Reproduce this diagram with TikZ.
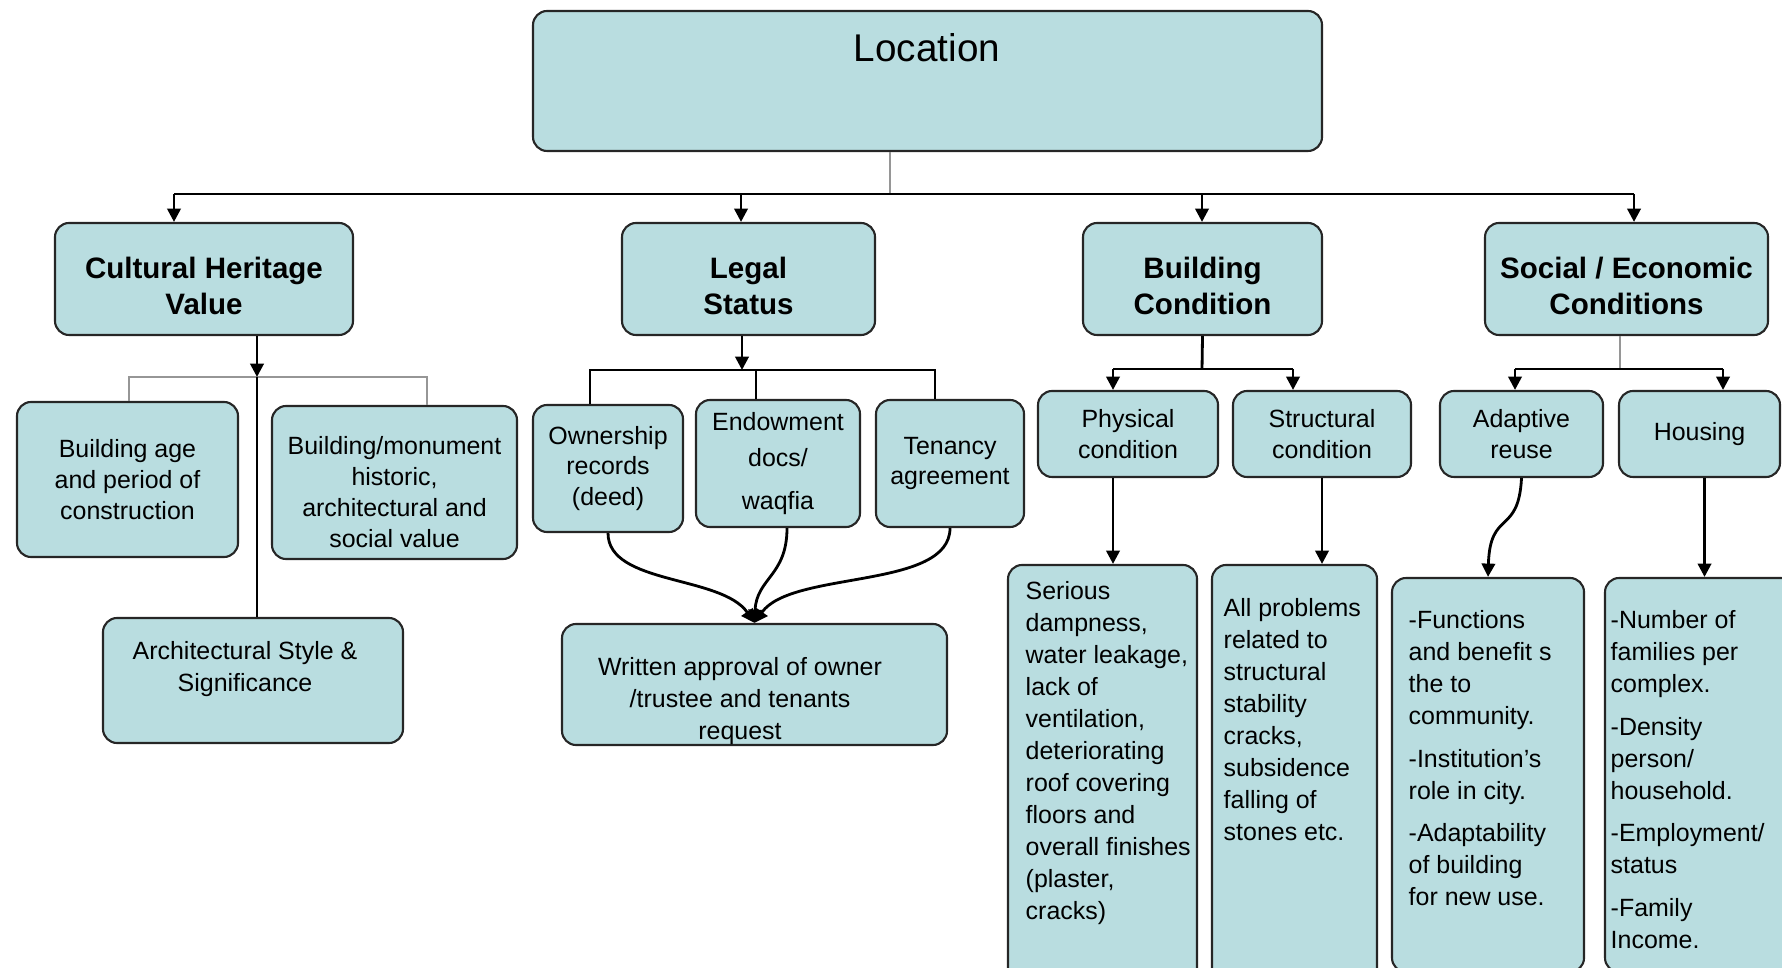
\documentclass[tikz,border=0pt]{standalone}
\usepackage{fontspec}
\setmainfont{Liberation Sans}
\usepackage{xcolor}
\usepackage{tikz}
\usetikzlibrary{positioning,arrows.meta}
\definecolor{boxblue}{RGB}{185,221,224}
\definecolor{wiregray}{RGB}{150,150,150}
\newcommand{\locfnt}{\fontsize{11}{13}\selectfont}
\newcommand{\hdfnt}{\fontsize{8.4}{10.2}\selectfont\bfseries}
\newcommand{\txfnt}{\fontsize{7.1}{8.8}\selectfont}
\newcommand{\lstfnt}{\fontsize{7.1}{9.1}\selectfont}

\begin{document}
\begin{tikzpicture}[
  box/.style={draw=black!85,line width=0.6pt,rounded corners=4pt,fill=boxblue,align=center,inner sep=2pt},
  head/.style={box,font=\hdfnt,text height=20pt,text depth=0pt},
  sub/.style={box,font=\txfnt},
  lst/.style={inner sep=0pt,font=\lstfnt,align=left,anchor=north west},
  wire/.style={line width=0.8pt},
  faint/.style={wiregray,line width=0.5pt},
  >={Triangle[width=3.8pt,length=3.8pt]}
]
\useasboundingbox (0,0) rectangle (17.82,-9.68);
\clip (0,0) rectangle (17.82,-9.68);

\node[box,minimum width=7.89cm,minimum height=1.40cm] (loc) at (9.275,-0.81) {};
\node[font=\locfnt,anchor=base,inner sep=0pt] (loctxt) at (9.27,-0.62) {Location};

\node[head,minimum width=2.98cm,minimum height=1.12cm] (chv) at (2.04,-2.79) {Cultural Heritage\\Value};
\node[head,minimum width=2.53cm,minimum height=1.12cm] (ls) at (7.485,-2.79) {Legal\\Status};
\node[head,minimum width=2.39cm,minimum height=1.12cm] (bc) at (12.025,-2.79) {Building\\Condition};
\node[head,minimum width=2.83cm,minimum height=1.12cm] (sec) at (16.265,-2.79) {Social / Economic\\Conditions};

\node[sub,minimum width=2.21cm,minimum height=1.55cm] (age) at (1.275,-4.795) {Building age\\and period of\\construction};
\node[sub,minimum width=2.45cm,minimum height=1.53cm,text height=36.8pt,text depth=0pt] (mon) at (3.945,-4.825) {Building/monument\\historic,\\architectural and\\social value};
\node[box,minimum width=3.00cm,minimum height=1.25cm] (arch) at (2.53,-6.805) {};
\node[lst,anchor=north,align=center] (archtxt) at (2.45,-6.41) {Architectural Style \&\\Significance};

\node[sub,minimum width=1.50cm,minimum height=1.27cm] (own) at (6.08,-4.685) {Ownership\\records\\(deed)};
\node[sub,minimum width=1.64cm,minimum height=1.27cm] (endow) at (7.78,-4.635) {Endowment\\[1.3pt]docs/\\[3.5pt]waqfia};
\node[sub,minimum width=1.48cm,minimum height=1.27cm] (ten) at (9.50,-4.635) {Tenancy\\agreement};
\node[box,minimum width=3.85cm,minimum height=1.21cm] (appr) at (7.545,-6.845) {};
\node[lst,anchor=north,align=center] (apprtxt) at (7.40,-6.57) {Written approval of owner\\/trustee and tenants\\request};

\node[sub,minimum width=1.80cm,minimum height=0.86cm] (phys) at (11.28,-4.34) {Physical\\condition};
\node[sub,minimum width=1.78cm,minimum height=0.86cm] (struc) at (13.22,-4.34) {Structural\\condition};
\node[box,minimum width=1.89cm,minimum height=4.35cm] (serious) at (11.025,-7.825) {};
\node[lst] (serioustxt) at (10.25,-5.81) {Serious\\dampness,\\water leakage,\\lack of\\ventilation,\\deteriorating\\roof covering\\floors and\\overall finishes\\(plaster,\\cracks)};
\node[box,minimum width=1.65cm,minimum height=4.35cm] (allp) at (12.945,-7.825) {};
\node[lst] (allptxt) at (12.23,-5.98) {All problems\\related to\\structural\\stability\\cracks,\\subsidence\\falling of\\stones etc.};

\node[sub,minimum width=1.63cm,minimum height=0.86cm] (adapt) at (15.215,-4.34) {Adaptive\\reuse};
\node[sub,minimum width=1.61cm,minimum height=0.86cm] (hous) at (16.995,-4.34) {Housing};
\node[box,minimum width=1.92cm,minimum height=3.94cm] (func) at (14.88,-7.75) {};
\node[lst] (functxt) at (14.08,-6.10) {-Functions\\and benefit s\\the to\\community.\\[3pt]-Institution's\\role in city.\\[3pt]-Adaptability\\of building\\for new use.};
\node[box,minimum width=1.90cm,minimum height=3.94cm] (num) at (17.00,-7.75) {};
\node[lst] (numtxt) at (16.10,-6.10) {-Number of\\families per\\complex.\\[3pt]-Density\\person/\\household.\\[3pt]-Employment/\\status\\[3pt]-Family\\Income.};

\coordinate (j0) at (8.90,-1.94);
\coordinate (d1) at (1.74,-1.94);
\coordinate (d2) at (7.41,-1.94);
\coordinate (d3) at (12.02,-1.94);
\coordinate (d4) at (16.34,-1.94);
\draw[faint] (loc.south -| j0) -- (j0);
\draw[wire] (d1) -- (d4);
\draw[wire,->] (d1) -- (d1 |- chv.north);
\draw[wire,->] (d2) -- (d2 |- ls.north);
\draw[wire,->] (d3) -- (d3 |- bc.north);
\draw[wire,->] (d4) -- (d4 |- sec.north);

\coordinate (c0) at (2.57,-3.77);
\coordinate (c1) at (1.29,-3.77);
\coordinate (c2) at (4.27,-3.77);
\draw[faint] (c1 |- age.north) -- (c1) -- (c2) -- (c2 |- mon.north);
\draw[wire,->] (chv.south -| c0) -- (c0);
\draw[wire] (c0) -- (c0 |- arch.north);

\coordinate (l0) at (7.42,-3.70);
\coordinate (l1) at (5.90,-3.70);
\coordinate (l2) at (7.56,-3.70);
\coordinate (l3) at (9.35,-3.70);
\draw[wire,->] (ls.south -| l0) -- (l0);
\draw[wire] (l1 |- own.north) -- (l1) -- (l3) -- (l3 |- ten.north);
\draw[wire] (l2) -- (l2 |- endow.north);
\draw[wire,->] (own.south) .. controls +(0,-0.52) and +(-0.33,0.48) .. (appr.north);
\draw[wire,->] ([xshift=0.09cm]endow.south) .. controls +(0,-0.48) and +(0.02,0.45) .. (appr.north);
\draw[wire,->] (ten.south) .. controls +(0,-0.62) and +(0.37,0.53) .. (appr.north);

\coordinate (b0) at (12.02,-3.69);
\coordinate (b1) at (11.13,-3.69);
\coordinate (b2) at (12.93,-3.69);
\draw[wire] (bc.south) -- (b0);
\draw[wire] (b1) -- (b2);
\draw[wire,->] (b1) -- (b1 |- phys.north);
\draw[wire,->] (b2) -- (b2 |- struc.north);
\draw[wire,->] (b1 |- phys.south) -- (b1 |- serious.north);
\draw[wire,->] (struc.south) -- (struc.south |- allp.north);

\coordinate (s0) at (16.20,-3.69);
\coordinate (s1) at (15.15,-3.69);
\coordinate (s2) at (17.23,-3.69);
\draw[faint] (sec.south -| s0) -- (s0);
\draw[wire] (s1) -- (s2);
\draw[wire,->] (s1) -- (s1 |- adapt.north);
\draw[wire,->] (s2) -- (s2 |- hous.north);
\draw[wire,->] (adapt.south) .. controls +(-0.03,-0.58) and +(0.02,0.68) .. (func.north);
\draw[wire,->] ([xshift=0.05cm]hous.south) -- ([xshift=0.05cm]hous.south |- num.north);
\end{tikzpicture}
\end{document}
